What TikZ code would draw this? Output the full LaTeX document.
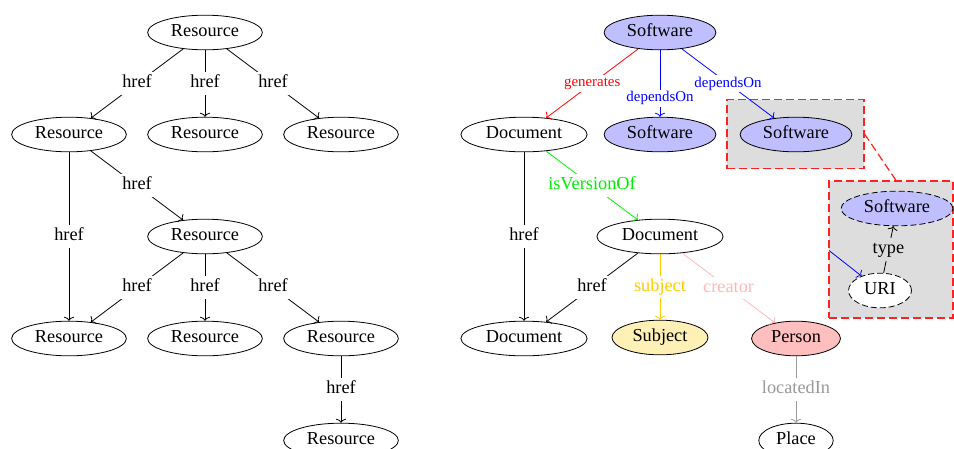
\documentclass[tikz,border=0pt]{standalone}
\usepackage{fontspec}
\setmainfont{Liberation Serif}
\usetikzlibrary{shapes.geometric,arrows.meta}
\definecolor{swblue}{HTML}{BFBFFF}
\definecolor{perspink}{HTML}{FFBFBF}
\definecolor{subjyel}{HTML}{FFF0B5}
\definecolor{boxgray}{HTML}{DDDDDD}
\definecolor{boxred}{HTML}{FF2020}
\definecolor{gold}{HTML}{FFCC00}
\definecolor{pinkline}{HTML}{FFB8B8}
\definecolor{locgray}{HTML}{999999}
\definecolor{vgreen}{HTML}{00EE00}
\begin{document}
\begin{tikzpicture}[x=1pt,y=-1pt,
  ent/.style={ellipse,draw=black,line width=0.8pt,font=\fontsize{18.3}{22}\selectfont,
    text height=12.5pt,text depth=4pt,inner xsep=6.5pt,inner ysep=4pt,fill=white},
  dashent/.style={dash pattern=on 6pt off 3pt},
  rel/.style={line width=0.8pt,-{To[length=4pt,width=10pt]}},
  lbl/.style={fill=white,inner sep=3pt,font=\fontsize{18.3}{22}\selectfont,text height=12.5pt,text depth=4pt},
  slbl/.style={fill=white,inner sep=2pt,font=\fontsize{14.9}{18}\selectfont,text height=10pt,text depth=3pt},
  zoombox/.style={draw=boxred,fill=boxgray,dash pattern=on 8pt off 4pt,line width=1.2pt,inner sep=0pt},
  zoomline/.style={draw=boxred,dash pattern=on 8pt off 4pt,line width=1.2pt}
]
\useasboundingbox (0,0) rectangle (954,448);
\begin{scope}[yshift=-1.5pt]
% ---------- left tree ----------
\node[ent] (r0) at (205,31) {Resource};
\node[ent] (r1) at (69,133) {Resource};
\node[ent] (r2) at (205,133) {Resource};
\node[ent] (r3) at (341,133) {Resource};
\node[ent] (r4) at (205,235) {Resource};
\node[ent] (r5) at (69,337) {Resource};
\node[ent] (r6) at (205,337) {Resource};
\node[ent] (r7) at (341,337) {Resource};
\node[ent] (r8) at (341,439) {Resource};
\draw[rel] (r0) -- node[lbl]{href} (r1);
\draw[rel] (r0) -- node[lbl]{href} (r2);
\draw[rel] (r0) -- node[lbl]{href} (r3);
\draw[rel] (r1) -- node[lbl]{href} (r4);
\draw[rel] (r1) -- node[lbl]{href} (r5);
\draw[rel] (r4) -- node[lbl]{href} (r5);
\draw[rel] (r4) -- node[lbl]{href} (r6);
\draw[rel] (r4) -- node[lbl]{href} (r7);
\draw[rel] (r7) -- node[lbl]{href} (r8);
% ---------- right graph ----------
\node[zoombox,minimum width=137pt,minimum height=69pt] (box1) at (795.5,132.5) {};
\node[zoombox,minimum width=124pt,minimum height=137pt] (box2) at (891,248) {};
\draw[zoomline] (box1.east) -- ([xshift=5pt]box2.north);
\node[ent,fill=swblue] (s0) at (660,31) {Software};
\node[ent] (d1) at (524,133) {Document};
\node[ent,fill=swblue] (s1) at (660,133) {Software};
\node[ent,fill=swblue] (s2) at (796,133) {Software};
\node[ent] (d2) at (660,235) {Document};
\node[ent] (d3) at (524,337) {Document};
\node[ent,fill=subjyel] (subj) at (660,336) {Subject};
\node[ent,fill=perspink] (pers) at (796,337) {Person};
\node[ent] (place) at (796,439) {Place};
\node[ent,fill=swblue,dashent] (s3) at (897,207) {Software};
\node[ent,dashent] (uri) at (880,289) {URI};
\coordinate (bin) at (829,249);
\draw[rel,red] (s0) -- node[slbl]{generates} (d1);
\draw[rel,blue] (s0) -- node[slbl,pos=0.72]{dependsOn} (s1);
\draw[rel,blue] (s0) -- node[slbl]{dependsOn} (s2);
\draw[rel,vgreen] (d1) -- node[lbl]{isVersionOf} (d2);
\draw[rel] (d1) -- node[lbl]{href} (d3);
\draw[rel] (d2) -- node[lbl]{href} (d3);
\draw[rel,gold] (d2) -- node[lbl]{subject} (subj);
\draw[rel,pinkline] (d2) -- node[lbl]{creator} (pers);
\draw[rel,locgray] (pers) -- node[lbl]{locatedIn} (place);
\draw[rel,blue] (bin) -- (uri);
\draw[rel] (uri) -- node[lbl,fill=boxgray]{type} (s3);
\end{scope}
\end{tikzpicture}
\end{document}
